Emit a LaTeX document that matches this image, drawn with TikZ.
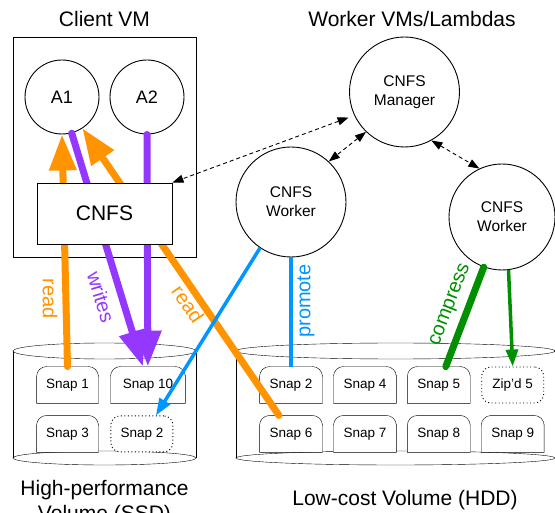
\documentclass[tikz,border=0pt]{standalone}
\usepackage{fontspec}
\setmainfont{Liberation Sans}
\usetikzlibrary{arrows.meta,positioning,backgrounds}

\definecolor{readorange}{RGB}{255,147,0}
\definecolor{writepurple}{RGB}{148,55,255}
\definecolor{promoteblue}{RGB}{0,150,255}
\definecolor{zipgreen}{RGB}{0,143,0}

\begin{document}
\begin{tikzpicture}[
  x=1pt, y=-1pt,
  line width=0.9pt,
  heading/.style={font=\fontsize{21}{25}\selectfont, anchor=base, inner sep=0pt, align=center},
  vm/.style={draw, minimum width=183pt, minimum height=220pt, inner sep=0pt},
  app/.style={draw, circle, fill=white, minimum size=74pt, inner sep=0pt, font=\fontsize{18}{22}\selectfont},
  fs/.style={draw, fill=white, minimum width=135pt, minimum height=61pt, font=\fontsize{21}{25}\selectfont},
  worker/.style={draw, circle, fill=white, minimum size=#1, inner sep=0pt, align=center, font=\fontsize{15.5}{19}\selectfont},
  snap/.style={minimum width=#1, minimum height=36pt, inner sep=0pt, font=\fontsize{13.5}{16}\selectfont},
  snap/.default=62pt,
  dottedsnap/.style={snap, draw, fill=white, rounded corners=9pt, dash pattern=on 1pt off 2.5pt},
  lbl/.style={font=\fontsize{20}{24}\selectfont, text=#1},
  fat/.style={line width=7pt, line cap=round, color=#1},
  fathead/.style={-{Triangle[length=36pt,width=26pt]}},
  slim/.style={line width=3.5pt, color=#1, -{Triangle[length=17pt,width=12pt]}},
  ctrl/.style={dash pattern=on 4pt off 3pt, <->, >={Triangle[length=11pt,width=8pt]}},
]
\useasboundingbox (0,0) rectangle (555,513);

% client side
\node[heading] (clienttitle) at (104.5,27) {Client VM};
\node[vm] (client) at (104.5,147) {};
\node[app] (a1) at (62,97) {A1};
\node[app] (a2) at (147,97) {A2};

% workers
\node[heading] (workertitle) at (412,27) {Worker VMs/Lambdas};
\node[worker=110pt] (mgr) at (404.5,92) {CNFS\\Manager};
\node[worker=110pt] (wl) at (291,202) {CNFS\\Worker};
\node[worker=106pt] (wr) at (502,217) {CNFS\\Worker};

% volumes
\begin{scope}[on background layer]
\foreach \xl/\xr in {13/196,236/555}{
  \pgfmathsetmacro\xm{(\xl+\xr)/2}
  \pgfmathsetmacro\rx{(\xr-\xl)/2}
  \fill[white] (\xl,351) rectangle (\xr,458);
  \draw[fill=white] (\xm,458) ellipse[x radius=\rx pt, y radius=7pt];
  \draw (\xl,351) -- (\xl,458) (\xr,351) -- (\xr,458);
  \draw[fill=white] (\xm,351) ellipse[x radius=\rx pt, y radius=8pt];
}
\end{scope}

% SSD snaps
\node[snap=61pt] (s1) at (67.5,385) {Snap 1};
\node[snap=74pt, right=12pt of s1] (s10) {Snap 10};
\node[snap=61pt, below=12pt of s1] (s3) {Snap 3};
\node[dottedsnap, right=12pt of s3] (s2c) {Snap 2};

% HDD snaps
\node[snap] (h2) at (291,385) {Snap 2};
\node[snap, right=11pt of h2] (h4) {Snap 4};
\node[snap, right=11pt of h4] (h5) {Snap 5};
\node[dottedsnap, right=11pt of h5] (z5) {Zip’d 5};
\node[snap, below=12pt of h2] (h6) {Snap 6};
\node[snap, right=11pt of h6] (h7) {Snap 7};
\node[snap, right=11pt of h7] (h8) {Snap 8};
\node[snap, right=11pt of h8] (h9) {Snap 9};

\begin{scope}[on background layer]
\foreach \s in {s1,s10,s3,h2,h4,h5,h6,h7,h8,h9}
  \draw[fill=white] (\s.west) [rounded corners=10pt] -- (\s.north west) -- (\s.north east) -- (\s.east)
    [sharp corners] -- (\s.south east) -- (\s.south west) -- cycle;
\end{scope}

\node[heading, anchor=north] (ssdlabel) at (104.5,479.5) {High-performance\\Volume (SSD)};
\node[heading] (hddlabel) at (405,505) {Low-cost Volume (HDD)};

% data paths
\draw[fat=readorange, fathead] (s1.north) -- (a1.south);
\draw[fat=writepurple, fathead] (a1.-75) -- ([xshift=-5pt]s10.north);
\draw[fat=writepurple, fathead] (a2.south) -- (s10.north);
\draw[fat=readorange, fathead] ([xshift=-12pt]h6.north) -- (a1.-57);
\draw[slim=promoteblue] (wl.-124) -- ([xshift=14pt]s2c.north);
\draw[line width=3.5pt, promoteblue] (wl.south) -- (h2.north);
\draw[fat=zipgreen] (wr.-110) -- ([xshift=7pt]h5.north);
\draw[slim=zipgreen] (wr.-83) -- (z5.north);

\node[fs] (cnfs) at (104.5,213.5) {CNFS};

% control
\draw[ctrl, shorten <=6pt] (mgr.205) -- (cnfs.north east);
\draw[ctrl] (mgr.226) -- (wl.47);
\draw[ctrl] (mgr.-61) -- (wr.115);

\node[lbl=readorange, rotate=-90] (readl) at (50,299) {read};
\node[lbl=writepurple, rotate=-73] (writel) at (101,297) {writes};
\node[lbl=readorange, rotate=-55] (readr) at (188,304) {read};
\node[lbl=promoteblue, rotate=90] (promotel) at (306,301) {promote};
\node[lbl=zipgreen, rotate=69] (compressl) at (451,305) {compress};
\end{tikzpicture}
\end{document}
